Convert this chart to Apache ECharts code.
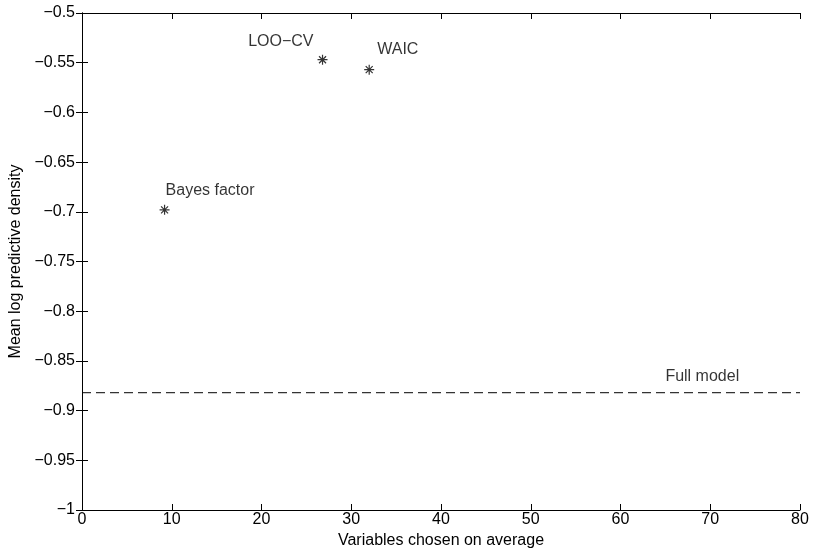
<!DOCTYPE html>
<html>
<head>
<meta charset="utf-8">
<script src="https://cdn.jsdelivr.net/npm/echarts@6/dist/echarts.min.js"></script>
<style>
  html, body { margin: 0; padding: 0; background: #fff; }
  #chart { width: 813px; height: 549px; }
</style>
</head>
<body>
<div id="chart"></div>
<script>
// criteria and their results
var methodNames = ['Bayes factor', 'LOO\u2212CV', 'WAIC']
var varsChosen = [9.2, 26.8, 32.0]
var meanLpd = [-0.698, -0.547, -0.557]
var fullModelLpd = -0.882
var xTicks = [0, 80, 10]      // min, max, step
var yTicks = [-1, -0.5, 0.05]

// label placement next to each star (pixels)
var labelOffsets = [[1, -19], [-9, -18], [8, -20]]
var labelAligns = ['left', 'right', 'left']

var font = 'Liberation Sans, Arial, Helvetica, sans-serif'
var fs = 16
var chart = echarts.init(document.getElementById('chart'))

function fmt(v) {
  return String(Number(v.toFixed(2))).replace('-', '\u2212')
}

var points = []
for (var i = 0; i < methodNames.length; i++) {
  points.push({
    name: methodNames[i],
    value: [varsChosen[i], meanLpd[i]],
    label: {
      show: true,
      formatter: methodNames[i],
      position: 'inside',
      align: labelAligns[i],
      verticalAlign: 'middle',
      offset: labelOffsets[i]
    }
  })
}

var star = 'path://M0,-5L0,5M-5,0L5,0M-3.5,-3.5L3.5,3.5M-3.5,3.5L3.5,-3.5'

var axisCommon = {
  type: 'value',
  axisLine: { show: true, lineStyle: { color: '#000', width: 1 } },
  axisTick: { show: true, inside: true, length: 6, lineStyle: { color: '#000' } },
  splitLine: { show: false },
  axisLabel: { color: '#000', fontFamily: font, fontSize: fs, formatter: fmt },
  nameTextStyle: { color: '#000', fontFamily: font, fontSize: 16 }
}

chart.setOption({
  animation: false,
  backgroundColor: '#fff',
  grid: { left: 82, right: 13, top: 13, bottom: 39, outerBoundsMode: 'none', containLabel: false },
  xAxis: [
    Object.assign({}, axisCommon, {
      min: xTicks[0], max: xTicks[1], interval: xTicks[2],
      name: 'Variables chosen on average',
      nameLocation: 'middle', nameGap: 19,
      axisLabel: Object.assign({}, axisCommon.axisLabel, { margin: 2 })
    }),
    Object.assign({}, axisCommon, {
      position: 'top',
      min: xTicks[0], max: xTicks[1], interval: xTicks[2],
      axisLabel: { show: false }
    })
  ],
  yAxis: [
    Object.assign({}, axisCommon, {
      min: yTicks[0], max: yTicks[1], interval: yTicks[2],
      name: 'Mean log predictive density',
      nameLocation: 'middle', nameGap: 57,
      axisLabel: Object.assign({}, axisCommon.axisLabel, { margin: 7 })
    }),
    Object.assign({}, axisCommon, {
      position: 'right',
      min: yTicks[0], max: yTicks[1], interval: yTicks[2],
      axisLabel: { show: false }
    })
  ],
  series: [
    {
      type: 'line',
      data: [[xTicks[0], fullModelLpd], [xTicks[1], fullModelLpd]],
      symbol: 'none',
      lineStyle: { color: '#000', width: 1, type: [9, 5] },
      silent: true,
      z: 1
    },
    {
      type: 'scatter',
      data: [{
        value: [65, fullModelLpd],
        label: {
          show: true, formatter: 'Full model', position: 'inside',
          align: 'left', verticalAlign: 'middle', offset: [0, -16]
        }
      }],
      symbolSize: 0,
      label: { color: '#000', fontFamily: font, fontSize: fs },
      silent: true
    },
    {
      type: 'scatter',
      data: points,
      symbol: star,
      symbolSize: 10,
      itemStyle: { color: 'none', borderColor: '#000', borderWidth: 1.2 },
      label: { color: '#000', fontFamily: font, fontSize: fs },
      z: 3
    }
  ]
})
</script>
</body>
</html>
